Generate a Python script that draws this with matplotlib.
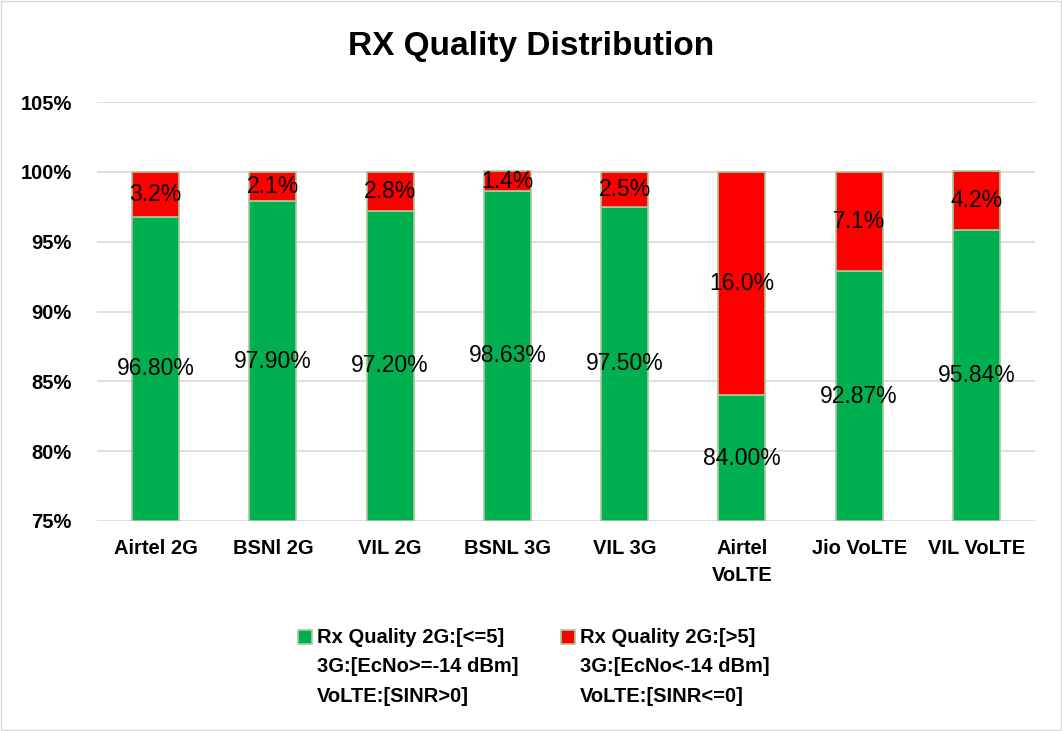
import matplotlib
matplotlib.use("Agg")
import matplotlib.pyplot as plt
import numpy as np
from matplotlib.patches import Rectangle
from matplotlib.ticker import PercentFormatter

categories = ["Airtel 2G", "BSNl 2G", "VIL 2G", "BSNL 3G", "VIL 3G",
              "Airtel\nVoLTE", "Jio VoLTE", "VIL VoLTE"]
good = [96.80, 97.90, 97.20, 98.63, 97.50, 84.00, 92.87, 95.84]
bad = [3.2, 2.1, 2.8, 1.4, 2.5, 16.0, 7.1, 4.2]
legend_labels = ["Rx Quality 2G:[<=5]\n3G:[EcNo>=-14 dBm]\nVoLTE:[SINR>0]",
                 "Rx Quality 2G:[>5]\n3G:[EcNo<-14 dBm]\nVoLTE:[SINR<=0]"]

GREEN = "#00B050"
RED = "#FF0000"
EDGE = "#A9C99B"
plt.rcParams["font.family"] = ["Liberation Sans", "DejaVu Sans"]

W, H = 1062, 731
fig = plt.figure(figsize=(W / 100, H / 100), dpi=100)
ax = fig.add_axes([97 / W, 1 - 521 / H, 938 / W, 419 / H])

x = np.arange(len(categories))
ymin = 75
ax.bar(x, np.array(good) - ymin, bottom=ymin, width=0.4, color=GREEN,
       edgecolor=EDGE, linewidth=1.2, zorder=3)
ax.bar(x, bad, bottom=good, width=0.4, color=RED,
       edgecolor=EDGE, linewidth=1.2, zorder=3)

for xi, g, b in zip(x, good, bad):
    ax.text(xi, (ymin + g) / 2, f"{g:.2f}%", ha="center", va="center",
            fontsize=16.5, color="black", zorder=4)
    top = min(g + b, 100)
    ax.text(xi, (g + top) / 2, f"{b:.1f}%", ha="center", va="center",
            fontsize=16.5, color="black", zorder=4)

ax.set_ylim(75, 105)
ax.set_xlim(-0.5, len(categories) - 0.5)
ax.set_yticks(np.arange(75, 106, 5))
ax.yaxis.set_major_formatter(PercentFormatter(decimals=0))
ax.set_xticks(x)
ax.set_xticklabels(categories, fontsize=14.5, fontweight="bold",
                   linespacing=1.5)
for lab in ax.get_yticklabels():
    lab.set_fontsize(14.5)
    lab.set_fontweight("bold")
ax.tick_params(axis="x", length=0, pad=13)
ax.tick_params(axis="y", length=0, pad=18)
ax.grid(axis="y", color="#D9D9D9", linewidth=1.2, zorder=0)
for s in ax.spines.values():
    s.set_visible(False)

fig.text(0.5, 1 - 47 / H, "RX Quality Distribution", ha="center",
         va="center", fontsize=24, fontweight="bold")

# legend drawn by hand so the swatch sits beside the first line
legend_colors = [GREEN, RED]
swatch_x = [298, 561]
for sx, col, lab in zip(swatch_x, legend_colors, legend_labels):
    fig.patches.append(Rectangle((sx / W, 1 - 644 / H), 14 / W, 14 / H,
                                 transform=fig.transFigure, facecolor=col,
                                 edgecolor=EDGE, linewidth=1.2))
    fig.text((sx + 19) / W, 1 - 628 / H, lab, ha="left", va="top",
             fontsize=14.5, fontweight="bold", linespacing=1.7)

fig.patches.append(Rectangle((0.001, 0.001), 0.998, 0.998,
                             transform=fig.transFigure, fill=False,
                             edgecolor="#D9D9D9", linewidth=1))

fig.savefig("out.png", dpi=100)
